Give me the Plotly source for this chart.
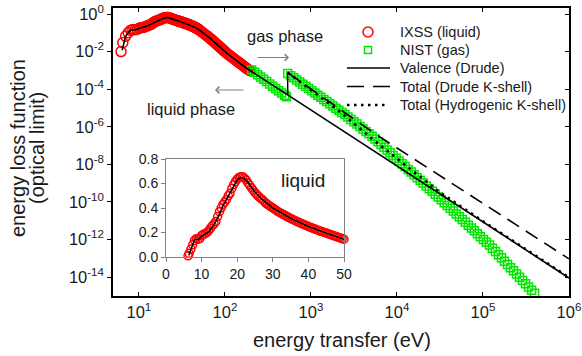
import plotly.graph_objects as go

# ---------------------------------------------------------------
# Liquid water, IXSS (optical limit): energy (eV) and loss function
# ---------------------------------------------------------------
ixss_energy = [
    6.2, 6.5, 7.0, 7.5, 8.0, 8.5, 9.0, 9.5, 10.0, 10.5, 11.0, 11.5, 12.0, 12.5,
    13.0, 13.5, 14.0, 14.5, 15.0, 15.5, 16.0, 16.5, 17.0, 17.5, 18.0, 18.5,
    19.0, 19.5, 20.0, 20.5, 21.0, 21.5, 22.0, 22.5, 23.0, 23.5, 24.0, 24.5,
    25.0, 25.5, 26.0, 26.5, 27.0, 27.5, 28.0, 28.5, 29.0, 29.5, 30.0, 30.5,
    31.0, 31.5, 32.0, 32.5, 33.0, 33.5, 34.0, 34.5, 35.0, 35.5, 36.0, 36.5,
    37.0, 37.5, 38.0, 38.5, 39.0, 39.5, 40.0, 40.5, 41.0, 41.5, 42.0, 42.5,
    43.0, 43.5, 44.0, 44.5, 45.0, 45.5, 46.0, 46.5, 47.0, 47.5, 48.0, 48.5,
    49.0, 49.5, 50.0,
    52, 54, 56, 58, 60, 62, 64, 66, 68, 70, 72, 74, 76, 78, 80, 82, 84, 86,
    88, 90, 92, 94, 96, 98, 100,
    105, 110, 115, 120, 125, 130, 135, 140, 145, 150, 155, 160, 165, 170,
    175, 180, 185, 190, 195,
]
ixss_elf = [
    0.010, 0.030, 0.065, 0.100, 0.135, 0.150, 0.145, 0.150, 0.175, 0.185,
    0.190, 0.200, 0.215, 0.235, 0.255, 0.270, 0.290, 0.330, 0.370, 0.400,
    0.430, 0.450, 0.470, 0.500, 0.520, 0.560, 0.590, 0.615, 0.635, 0.650,
    0.655, 0.655, 0.645, 0.630, 0.605, 0.585, 0.565, 0.545, 0.525, 0.510,
    0.495, 0.480, 0.470, 0.455, 0.440, 0.430, 0.420, 0.410, 0.400, 0.390,
    0.380, 0.370, 0.362, 0.354, 0.346, 0.338, 0.330, 0.322, 0.315, 0.308,
    0.300, 0.294, 0.287, 0.280, 0.274, 0.268, 0.261, 0.255, 0.249, 0.243,
    0.237, 0.232, 0.226, 0.221, 0.215, 0.210, 0.205, 0.200, 0.195, 0.190,
    0.185, 0.180, 0.175, 0.170, 0.165, 0.160, 0.155, 0.150, 0.145,
    0.126, 0.111, 0.0973, 0.0863, 0.0764, 0.0682, 0.0610, 0.0545, 0.0488,
    0.0433, 0.0386, 0.0345, 0.0308, 0.0278, 0.0251, 0.0226, 0.0206, 0.0186,
    0.0169, 0.0155, 0.0141, 0.0129, 0.0119, 0.0109, 0.0100,
    0.00822, 0.00700, 0.00596, 0.00515, 0.00446, 0.00389, 0.00342, 0.00301,
    0.00266, 0.00236, 0.00211, 0.00188, 0.00169, 0.00152, 0.00137, 0.00124,
    0.00114, 0.00104, 0.00096,
]

# ---------------------------------------------------------------
# Water vapour, NIST (log10 of energy in eV, log10 of loss function)
# ---------------------------------------------------------------
nist_log_energy = [
    2.310, 2.345, 2.380, 2.415, 2.450, 2.485, 2.520, 2.555, 2.590, 2.625,
    2.660, 2.695, 2.715,
    2.730, 2.765, 2.800, 2.835, 2.870, 2.905, 2.940, 2.975, 3.010, 3.045,
    3.080, 3.115, 3.150, 3.185, 3.220, 3.255, 3.290, 3.325, 3.360, 3.395,
    3.430, 3.465, 3.500, 3.535, 3.570, 3.605, 3.640, 3.675, 3.710,
    3.745, 3.780, 3.815, 3.850, 3.885, 3.920, 3.955, 3.990, 4.025, 4.060,
    4.095, 4.130, 4.165, 4.200, 4.235, 4.270, 4.305, 4.340, 4.375, 4.410,
    4.445, 4.480,
    4.515, 4.550, 4.585, 4.620, 4.655, 4.690, 4.725, 4.760, 4.795, 4.830,
    4.865, 4.900, 4.935, 4.970, 5.005, 5.040, 5.075,
    5.110, 5.145, 5.180, 5.215, 5.250, 5.285, 5.320, 5.355, 5.390, 5.425,
    5.460, 5.495, 5.530, 5.565, 5.600,
]
nist_log_elf = [
    -2.98, -3.10, -3.23, -3.35, -3.47, -3.59, -3.72, -3.84, -3.96, -4.08,
    -4.21, -4.33, -4.40,
    -3.16, -3.28, -3.39, -3.51, -3.62, -3.74, -3.85, -3.97, -4.08, -4.20,
    -4.32, -4.43, -4.55, -4.66, -4.78, -4.89, -5.01, -5.12, -5.24, -5.35,
    -5.48, -5.61, -5.73, -5.86, -5.99, -6.12, -6.25, -6.38, -6.50,
    -6.65, -6.80, -6.94, -7.09, -7.24, -7.38, -7.53, -7.68, -7.83, -7.97,
    -8.12, -8.27, -8.41, -8.56, -8.71, -8.85, -9.00, -9.15, -9.30, -9.44,
    -9.59, -9.74,
    -9.89, -10.04, -10.19, -10.34, -10.49, -10.64, -10.79, -10.94, -11.09,
    -11.24, -11.39, -11.54, -11.70, -11.85, -12.00, -12.15, -12.30,
    -12.47, -12.64, -12.81, -12.98, -13.16, -13.33, -13.50, -13.67, -13.84,
    -14.01, -14.18, -14.36, -14.53, -14.70, -14.87,
]
nist_energy = [10 ** v for v in nist_log_energy]
nist_elf = [10 ** v for v in nist_log_elf]

# ---------------------------------------------------------------
# Model curves
# ---------------------------------------------------------------
drude_energy = [6.4, 7.0, 7.5, 8.0, 8.5, 9.0, 10, 11, 12, 13, 14, 15, 16, 17,
                18, 19, 20, 21, 22, 23, 24, 25, 27, 30, 35, 40, 45, 50, 60,
                67, 80, 105, 140, 178, 537, 1e3, 1e4, 1e5, 1e6]
drude_elf = [0.012, 0.065, 0.10, 0.14, 0.145, 0.14, 0.17, 0.19, 0.205, 0.245,
             0.29, 0.35, 0.42, 0.47, 0.52, 0.58, 0.63, 0.65, 0.64, 0.61, 0.57,
             0.53, 0.47, 0.40, 0.315, 0.249, 0.195, 0.145, 0.077, 0.052,
             0.025, 0.0082, 0.003, 0.0013, 5.0e-5, 7.8e-6, 8.1e-9, 8.5e-12,
             8.9e-15]

# oxygen K edge: valence-only value and total value at the edge
k_edge_energy = [537, 537]
k_edge_elf = [5.0e-5, 7.6e-4]

total_drude_k_energy = [537, 1e3, 5250, 1e4, 1e5, 1e6]
total_drude_k_elf = [7.6e-4, 1.02e-4, 5.0e-7, 7.4e-8, 8.3e-11, 9.3e-14]

total_hydro_k_energy = [537, 1e3, 2170, 5300, 1e4, 2.04e4, 3.16e4, 1e5, 1e6]
total_hydro_k_elf = [7.6e-4, 8.9e-5, 6.3e-6, 2.0e-7, 2.0e-8, 1.48e-9,
                     3.2e-10, 9.3e-12, 9.5e-15]

# inset only shows the low-energy part of the liquid data
inset_energy = [e for e in ixss_energy if e <= 50]
inset_elf = ixss_elf[:len(inset_energy)]

# tick labels
x_tick_vals = [1e1, 1e2, 1e3, 1e4, 1e5, 1e6]
x_tick_text = ["10<sup>%d</sup>" % p for p in range(1, 7)]
y_tick_vals = [10.0 ** -p for p in range(0, 15, 2)]
y_tick_text = ["10<sup>%s</sup>" % ("-%d" % p if p else "0")
               for p in range(0, 15, 2)]

legend_labels = ["IXSS (liquid)", "NIST (gas)", "Valence (Drude)",
                 "Total (Drude K-shell)", "Total (Hydrogenic K-shell)"]

FONT = "Arial, 'Liberation Sans', sans-serif"
RED = "#ff0000"
GREEN = "#00e600"
GREY = "#808080"
TEXT = "#1a1a1a"

DASH_DRUDE_K = "14px,8px"
DASH_HYDRO_K = "2.5px,4.5px"

# plot-area geometry in pixels (for placing legend and notes)
PLOT_L, PLOT_T, PLOT_W, PLOT_H = 113, 8, 456, 288


def px_x(px):
    return (px - PLOT_L) / PLOT_W


def px_y(py):
    return (PLOT_T + PLOT_H - py) / PLOT_H


fig = go.Figure()

fig.add_trace(go.Scatter(
    x=ixss_energy, y=ixss_elf, mode="markers", name=legend_labels[0],
    marker=dict(symbol="circle-open", size=10, color=RED, line=dict(width=1.5)),
))
fig.add_trace(go.Scatter(
    x=nist_energy, y=nist_elf, mode="markers", name=legend_labels[1],
    marker=dict(symbol="square-open", size=8, color=GREEN, line=dict(width=1.5)),
))
fig.add_trace(go.Scatter(
    x=drude_energy, y=drude_elf, mode="lines", name=legend_labels[2],
    line=dict(color="black", width=1.6),
))
fig.add_trace(go.Scatter(
    x=total_drude_k_energy, y=total_drude_k_elf, mode="lines",
    name=legend_labels[3], yaxis="y3",
    line=dict(color="black", width=1.6, dash=DASH_DRUDE_K),
))
fig.add_trace(go.Scatter(
    x=total_hydro_k_energy, y=total_hydro_k_elf, mode="lines",
    name=legend_labels[4],
    line=dict(color="black", width=2.6, dash=DASH_HYDRO_K),
))
fig.add_trace(go.Scatter(
    x=k_edge_energy, y=k_edge_elf, mode="lines", name="K edge",
    line=dict(color="black", width=1.4),
))

# inset: linear view of the liquid data
fig.add_trace(go.Scatter(
    x=inset_energy, y=inset_elf, mode="markers", name="IXSS inset",
    xaxis="x2", yaxis="y2", cliponaxis=False,
    marker=dict(symbol="circle-open", size=8, color=RED, line=dict(width=1.5)),
))
fig.add_trace(go.Scatter(
    x=drude_energy, y=drude_elf, mode="lines", name="Drude inset",
    xaxis="x2", yaxis="y2",
    line=dict(color="black", width=1.5),
))

# ---- legend drawn as shapes + labels ----
row_y = [32, 50, 68, 86.5, 105]
sym_x0, sym_x1, sym_cx, text_x = 347, 390, 368, 398
shapes = []
r = 5
shapes.append(dict(type="circle", xref="paper", yref="paper",
                   x0=px_x(sym_cx - r), x1=px_x(sym_cx + r),
                   y0=px_y(row_y[0] + r), y1=px_y(row_y[0] - r),
                   line=dict(color=RED, width=1.5)))
s = 3.5
shapes.append(dict(type="rect", xref="paper", yref="paper",
                   x0=px_x(sym_cx - s), x1=px_x(sym_cx + s),
                   y0=px_y(row_y[1] + s), y1=px_y(row_y[1] - s),
                   line=dict(color=GREEN, width=1.5)))
for k, (dash, width, x1) in enumerate([("solid", 1.6, sym_x1),
                                        ("17px,9px", 1.6, sym_x1),
                                        (DASH_HYDRO_K, 2.6, 385)]):
    yy = px_y(row_y[2 + k])
    shapes.append(dict(type="line", xref="paper", yref="paper",
                       x0=px_x(sym_x0), x1=px_x(x1), y0=yy, y1=yy,
                       line=dict(color="black", width=width, dash=dash)))

annotations = []
for label, yy in zip(legend_labels, row_y):
    annotations.append(dict(text=label, xref="paper", yref="paper",
                            x=px_x(text_x), y=px_y(yy), xanchor="left",
                            yanchor="middle", showarrow=False,
                            font=dict(size=14.5, color=TEXT)))

# axis titles
annotations += [
    dict(text="energy loss function", xref="paper", yref="paper",
         x=px_x(18), y=px_y(148), textangle=-90, xanchor="center",
         yanchor="middle", showarrow=False, font=dict(size=20, color=TEXT)),
    dict(text="(optical limit)", xref="paper", yref="paper",
         x=px_x(37), y=px_y(148), textangle=-90, xanchor="center",
         yanchor="middle", showarrow=False, font=dict(size=20, color=TEXT)),
    dict(text="energy transfer (eV)", xref="paper", yref="paper",
         x=px_x(342), y=px_y(340), xanchor="center", yanchor="middle",
         showarrow=False, font=dict(size=20, color=TEXT)),
]

# phase notes and arrows, inset label
annotations += [
    dict(text="gas phase", xref="paper", yref="paper", x=px_x(285),
         y=px_y(36), xanchor="center", yanchor="middle", showarrow=False,
         font=dict(size=16.5, color=TEXT)),
    dict(text="", xref="paper", yref="paper", x=px_x(289), y=px_y(57.5),
         ax=-33, ay=0, showarrow=True, arrowhead=4, arrowsize=1.3,
         arrowwidth=1, arrowcolor=GREY),
    dict(text="liquid phase", xref="paper", yref="paper", x=px_x(191),
         y=px_y(109), xanchor="center", yanchor="middle", showarrow=False,
         font=dict(size=16.5, color=TEXT)),
    dict(text="", xref="paper", yref="paper", x=px_x(215), y=px_y(90),
         ax=30, ay=0, showarrow=True, arrowhead=4, arrowsize=1.3,
         arrowwidth=1, arrowcolor=GREY),
    dict(text="liquid", xref="paper", yref="paper", x=px_x(303),
         y=px_y(180), xanchor="center", yanchor="middle", showarrow=False,
         font=dict(size=19, color=TEXT)),
]

Y_RANGE = [-15.01, 0.32]

fig.update_layout(
    width=582, height=356,
    margin=dict(l=PLOT_L, r=582 - PLOT_L - PLOT_W, t=PLOT_T,
                b=356 - PLOT_T - PLOT_H),
    paper_bgcolor="white", plot_bgcolor="white",
    font=dict(family=FONT, color=TEXT),
    showlegend=False,
    xaxis=dict(
        type="log", range=[0.699, 6], tickvals=x_tick_vals,
        ticktext=x_tick_text, automargin=False,
        showgrid=False, zeroline=False,
        showline=True, linecolor="black", linewidth=1.5, mirror="ticks",
        ticks="inside", ticklen=4, tickcolor="black",
        tickfont=dict(size=16.5, color=TEXT),
    ),
    yaxis=dict(
        type="log", range=Y_RANGE, tickvals=y_tick_vals,
        ticktext=y_tick_text, automargin=False,
        showgrid=False, zeroline=False,
        showline=True, linecolor="black", linewidth=1.5, mirror=True,
        ticks="outside", ticklen=4, tickcolor="black",
        tickfont=dict(size=16.5, color=TEXT),
    ),
    yaxis3=dict(
        type="log", range=Y_RANGE, tickvals=y_tick_vals,
        overlaying="y", side="right", anchor="x", automargin=False,
        showgrid=False, zeroline=False, showline=False,
        ticks="inside", ticklen=4, tickcolor="black", showticklabels=False,
    ),
    xaxis2=dict(
        domain=[px_x(166), px_x(344)], anchor="y2", range=[0, 50], dtick=10,
        showgrid=False, zeroline=False, automargin=False,
        showline=True, linecolor=GREY, linewidth=1, mirror=True,
        ticks="outside", ticklen=4, tickcolor=GREY,
        tickfont=dict(size=14, color=TEXT),
    ),
    yaxis2=dict(
        domain=[px_y(257), px_y(159)], anchor="x2", range=[0, 0.8], dtick=0.2,
        tickformat=".1f", showgrid=False, zeroline=False, automargin=False,
        showline=True, linecolor=GREY, linewidth=1, mirror=True,
        ticks="outside", ticklen=4, tickcolor=GREY,
        tickfont=dict(size=14, color=TEXT),
    ),
    shapes=shapes,
    annotations=annotations,
)

fig.write_html("out.html")
